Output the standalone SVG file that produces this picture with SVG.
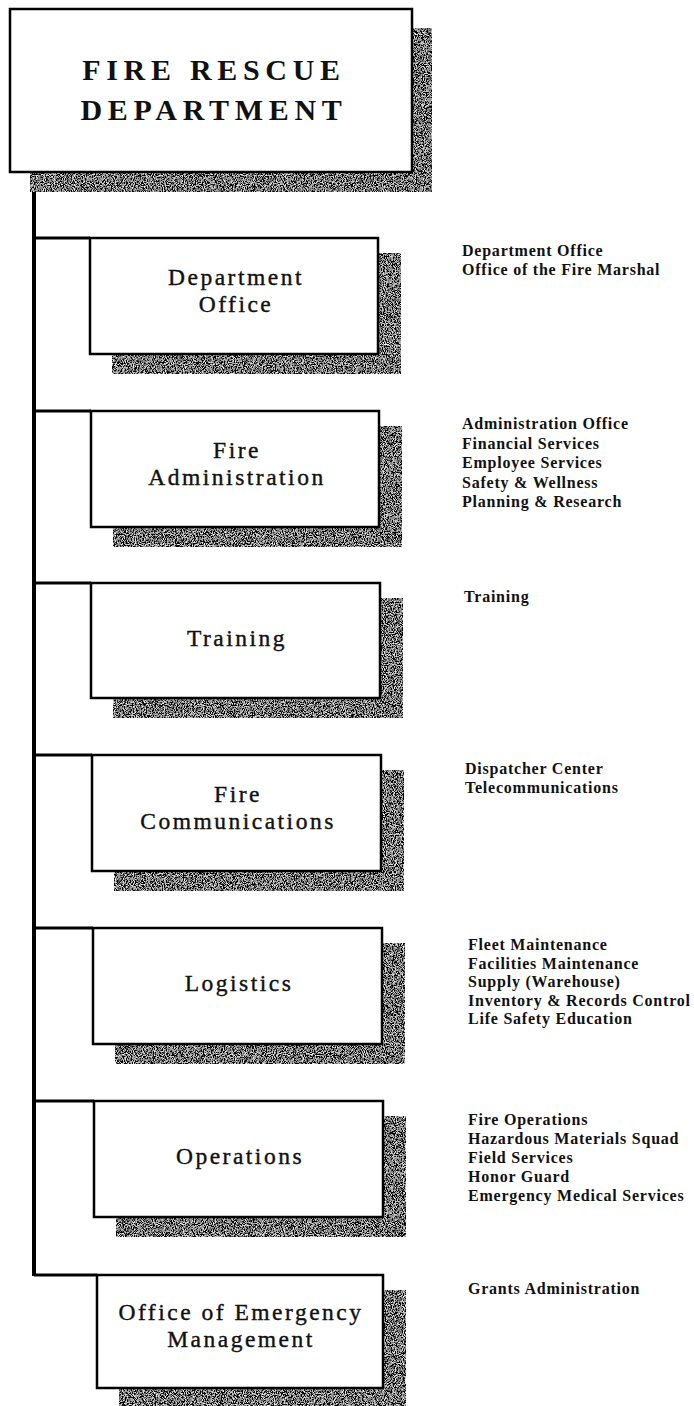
<svg xmlns="http://www.w3.org/2000/svg" width="694" height="1406" viewBox="0 0 694 1406">
<defs>
<filter id="speckle" x="0" y="0" width="100%" height="100%">
<feTurbulence type="fractalNoise" baseFrequency="1.1" numOctaves="1" seed="3" result="n"/>
<feColorMatrix in="n" type="matrix" values="3 0 0 0 -1.3  3 0 0 0 -1.3  3 0 0 0 -1.3  0 0 0 0 1" result="g"/>
<feComposite in="g" in2="SourceGraphic" operator="in"/>
</filter>
<style>
.box{fill:#fff;stroke:#000;stroke-width:2.5}
.shadow{fill:#444;filter:url(#speckle)}
.conn{stroke:#000;stroke-width:3;fill:none}
.vline{stroke:#000;stroke-width:4;fill:none}
.title{font-family:"Liberation Serif",serif;font-weight:bold;font-size:30px;letter-spacing:5.7px;fill:#111;text-anchor:middle}
.lbl{font-family:"Liberation Serif",serif;font-size:23.5px;letter-spacing:2.5px;fill:#111;text-anchor:middle;stroke:#111;stroke-width:0.4}
.lst{font-family:"Liberation Serif",serif;font-weight:bold;font-size:16px;letter-spacing:0.77px;fill:#111}
</style>
</defs>
<rect width="694" height="1406" fill="#fff"/>
<g id="connectors">
<line class="vline" x1="34" y1="172" x2="34" y2="1276"/>
<line class="conn" x1="34" y1="238" x2="90" y2="238"/>
<line class="conn" x1="34" y1="411" x2="91" y2="411"/>
<line class="conn" x1="34" y1="583" x2="91" y2="583"/>
<line class="conn" x1="34" y1="755" x2="92" y2="755"/>
<line class="conn" x1="34" y1="928" x2="93" y2="928"/>
<line class="conn" x1="34" y1="1101" x2="94" y2="1101"/>
<line class="conn" x1="34" y1="1275" x2="97" y2="1275"/>
</g>
<g id="fire-rescue-department">
<rect class="shadow" x="30" y="28" width="402" height="164"/>
<rect class="box" x="10" y="9" width="402" height="163"/>
<text class="title" x="214" y="80">FIRE RESCUE</text>
<text class="title" x="214" y="120">DEPARTMENT</text>
</g>
<g id="department-office">
<rect class="shadow" x="112" y="253" width="289" height="121"/>
<rect class="box" x="90" y="238" width="288" height="116"/>
<text class="lbl" x="236" y="285">Department</text>
<text class="lbl" x="236" y="312">Office</text>
<text class="lst" x="462" y="256">Department Office</text>
<text class="lst" x="462" y="275">Office of the Fire Marshal</text>
</g>
<g id="fire-administration">
<rect class="shadow" x="113" y="426" width="289" height="121"/>
<rect class="box" x="91" y="411" width="288" height="116"/>
<text class="lbl" x="237" y="458">Fire</text>
<text class="lbl" x="237" y="485">Administration</text>
<text class="lst" x="462" y="429">Administration Office</text>
<text class="lst" x="462" y="448.5">Financial Services</text>
<text class="lst" x="462" y="468">Employee Services</text>
<text class="lst" x="462" y="487.5">Safety &amp; Wellness</text>
<text class="lst" x="462" y="507">Planning &amp; Research</text>
</g>
<g id="training">
<rect class="shadow" x="113" y="598" width="290" height="120"/>
<rect class="box" x="91" y="583" width="289" height="115"/>
<text class="lbl" x="237" y="646">Training</text>
<text class="lst" x="464" y="602">Training</text>
</g>
<g id="fire-communications">
<rect class="shadow" x="114" y="770" width="290" height="121"/>
<rect class="box" x="92" y="755" width="289" height="116"/>
<text class="lbl" x="238" y="802">Fire</text>
<text class="lbl" x="238" y="829">Communications</text>
<text class="lst" x="465" y="774">Dispatcher Center</text>
<text class="lst" x="465" y="793">Telecommunications</text>
</g>
<g id="logistics">
<rect class="shadow" x="115" y="943" width="290" height="121"/>
<rect class="box" x="93" y="928" width="289" height="116"/>
<text class="lbl" x="239" y="991">Logistics</text>
<text class="lst" x="468" y="950">Fleet Maintenance</text>
<text class="lst" x="468" y="968.5">Facilities Maintenance</text>
<text class="lst" x="468" y="987">Supply (Warehouse)</text>
<text class="lst" x="468" y="1005.5">Inventory &amp; Records Control</text>
<text class="lst" x="468" y="1024">Life Safety Education</text>
</g>
<g id="operations">
<rect class="shadow" x="116" y="1116" width="290" height="121"/>
<rect class="box" x="94" y="1101" width="289" height="116"/>
<text class="lbl" x="240" y="1164">Operations</text>
<text class="lst" x="468" y="1125">Fire Operations</text>
<text class="lst" x="468" y="1144">Hazardous Materials Squad</text>
<text class="lst" x="468" y="1163">Field Services</text>
<text class="lst" x="468" y="1182">Honor Guard</text>
<text class="lst" x="468" y="1201">Emergency Medical Services</text>
</g>
<g id="office-of-emergency-management">
<rect class="shadow" x="119" y="1290" width="287" height="120"/>
<rect class="box" x="97" y="1275" width="286" height="113"/>
<text class="lbl" x="241" y="1320">Office of Emergency</text>
<text class="lbl" x="241" y="1347">Management</text>
<text class="lst" x="468" y="1294">Grants Administration</text>
</g>
</svg>
